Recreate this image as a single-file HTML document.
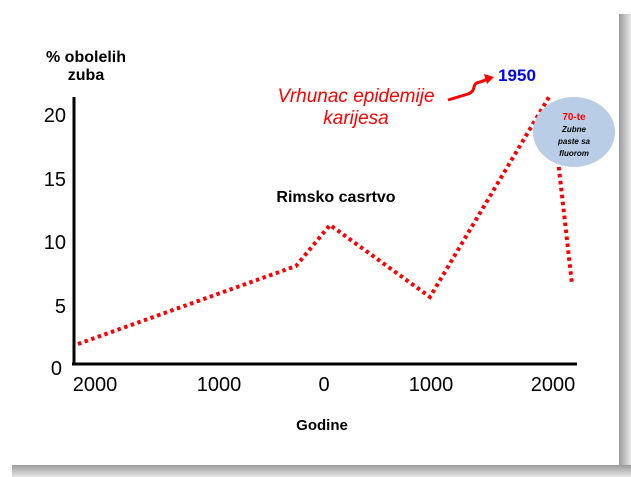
<!DOCTYPE html>
<html><head><style>
body{margin:0;width:631px;height:477px;overflow:hidden;background:#fff}
svg{display:block}
</style></head><body>
<svg width="631" height="477" viewBox="0 0 631 477" font-family="Liberation Sans, sans-serif">
<defs>
<linearGradient id="sr" x1="0" x2="1"><stop offset="0" stop-color="#9a9a9a"/><stop offset="1" stop-color="#e8e8e8"/></linearGradient>
<linearGradient id="sb" x1="0" y1="0" x2="0" y2="1"><stop offset="0" stop-color="#9a9a9a"/><stop offset="1" stop-color="#e8e8e8"/></linearGradient>
</defs>
<rect x="619" y="14" width="12" height="463" fill="url(#sr)"/>
<rect x="12" y="465" width="619" height="12" fill="url(#sb)"/>
<rect x="0" y="0" width="619" height="465" fill="#fff"/>
<line x1="74" y1="97" x2="74" y2="365" stroke="#000" stroke-width="3"/>
<line x1="72" y1="364" x2="577" y2="364" stroke="#000" stroke-width="3"/>
<g font-size="20" fill="#000" text-anchor="end">
<text x="66" y="122">20</text><text x="66" y="186">15</text><text x="66" y="249">10</text><text x="66" y="313">5</text><text x="62" y="375">0</text>
</g>
<g font-size="20" fill="#000" text-anchor="middle">
<text x="95" y="391">2000</text><text x="219" y="391">1000</text><text x="324" y="391">0</text><text x="431" y="391">1000</text><text x="553" y="391">2000</text>
</g>
<text x="322" y="430" font-size="15" font-weight="bold" text-anchor="middle">Godine</text>
<text x="86" y="62" font-size="16" font-weight="bold" text-anchor="middle">% obolelih</text>
<text x="86" y="80" font-size="16" font-weight="bold" text-anchor="middle">zuba</text>
<text x="336" y="202" font-size="16" font-weight="bold" text-anchor="middle">Rimsko casrtvo</text>
<text x="356" y="102" font-size="19" font-style="italic" fill="#ff0000" text-anchor="middle">Vrhunac epidemije</text>
<text x="356" y="124" font-size="19" font-style="italic" fill="#ff0000" text-anchor="middle">karijesa</text>
<text x="517" y="81" font-size="17" font-weight="bold" fill="#0000ff" text-anchor="middle">1950</text>
<path d="M448 100 L468 94 C478 90 470 84 480 82 L488 79" stroke="#ff0000" stroke-width="3" fill="none"/>
<polygon points="494,77 484,74 487,84" fill="#ff0000"/>
<polyline points="78,344 296,266 330,225 430,297 549,97" fill="none" stroke="#ff0000" stroke-width="4" stroke-dasharray="3.5 3.5"/>
<line x1="558" y1="160" x2="572" y2="284" stroke="#ff0000" stroke-width="4" stroke-dasharray="3.5 3.5"/>
<ellipse cx="574" cy="132" rx="41" ry="35" fill="#b9cde6"/>
<text x="574" y="120" font-size="10" font-weight="bold" fill="#ff0000" text-anchor="middle">70-te</text>
<g font-size="8" font-weight="bold" font-style="italic" text-anchor="middle">
<text x="574" y="132">Zubne</text><text x="574" y="144">paste sa</text><text x="574" y="156">fluorom</text>
</g>
</svg>
</body></html>
